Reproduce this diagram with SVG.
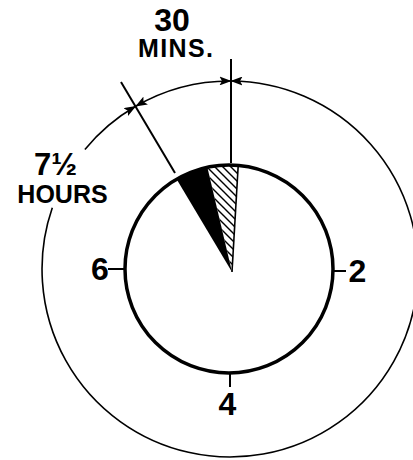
<svg xmlns="http://www.w3.org/2000/svg" width="413" height="460" viewBox="0 0 413 460">
<style>
.t{font-family:"Liberation Sans",Arial,sans-serif;font-weight:bold;fill:#000}
.ln{stroke:#000;fill:none}
</style>
<defs>
<marker id="ah" markerUnits="userSpaceOnUse" markerWidth="12" markerHeight="9" viewBox="0 0 12 9" refX="11.5" refY="4.5" orient="auto-start-reverse">
<path d="M0,0 L12,4.5 L0,9 L2.5,4.5 Z" fill="#000"/>
</marker>
<pattern id="hatch" patternUnits="userSpaceOnUse" width="8" height="8">
<path d="M-1,-1 L9,9 M-1,7 L1,9 M7,-1 L9,1" stroke="#000" stroke-width="1.4"/>
</pattern>
</defs>
<rect width="413" height="460" fill="#fff"/>
<g id="connectors">
<path class="ln" stroke-width="1.6" d="M135.7,106.3 A188,188 0 0 1 231,81" marker-start="url(#ah)" marker-end="url(#ah)"/>
<path class="ln" stroke-width="1.6" d="M231,81 A188,188 0 1 1 52.3,207.7" marker-start="url(#ah)"/>
<path class="ln" stroke-width="1.6" d="M84.9,149.5 A188,188 0 0 1 135.7,106.3" marker-end="url(#ah)"/>
<line class="ln" stroke-width="2" x1="231" y1="59" x2="231" y2="163"/>
<line class="ln" stroke-width="2" x1="121" y1="82" x2="175" y2="173"/>
</g>
<g id="wedges">
<path d="M232,272 L176.5,179 A104,104 0 0 1 207.3,167 Z" fill="#000"/>
<path d="M232,272 L207.3,167 A104,104 0 0 1 238.2,165.5 Z" fill="url(#hatch)"/>
<line class="ln" stroke-width="1.6" x1="232" y1="272" x2="238.2" y2="165.5"/>
</g>
<g id="dial">
<circle class="ln" cx="229" cy="269" r="104" stroke-width="3.5"/>
<line class="ln" stroke-width="2" x1="108" y1="269" x2="125" y2="269"/>
<line class="ln" stroke-width="2" x1="333" y1="271" x2="346" y2="271"/>
<line class="ln" stroke-width="2" x1="230" y1="373" x2="230" y2="387"/>
</g>
<g id="label-6"><text class="t" x="100" y="280" font-size="32" text-anchor="middle">6</text></g>
<g id="label-2"><text class="t" x="357.5" y="282" font-size="32" text-anchor="middle">2</text></g>
<g id="label-4"><text class="t" x="227.5" y="415" font-size="32" text-anchor="middle">4</text></g>
<g id="label-30mins">
<text class="t" x="172" y="31" font-size="32" text-anchor="middle">30</text>
<text class="t" x="138" y="57" font-size="25" textLength="75" lengthAdjust="spacing">MINS.</text>
</g>
<g id="label-hours">
<text class="t" x="34" y="175" font-size="31">7½</text>
<text class="t" x="62.5" y="203" font-size="25" text-anchor="middle">HOURS</text>
</g>
</svg>
